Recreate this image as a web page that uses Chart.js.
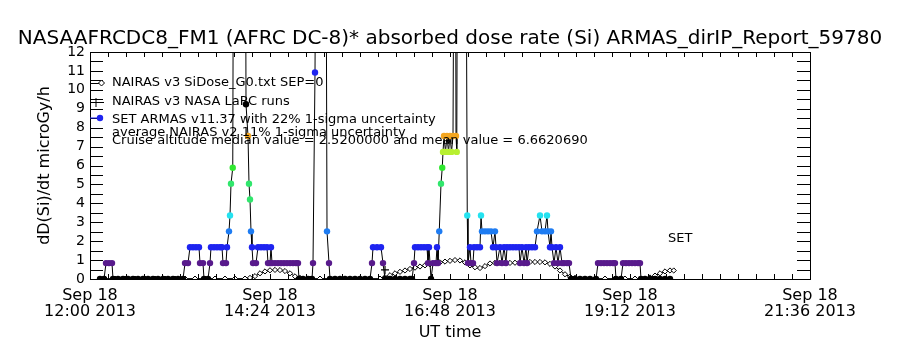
<!DOCTYPE html>
<html>
<head>
<meta charset="utf-8">
<script src="https://cdn.jsdelivr.net/npm/chart.js@4.4.1/dist/chart.umd.min.js"></script>
<style>
  body { margin: 0; background: #fff; }
  canvas { display: block; }
</style>
</head>
<body>
<canvas id="doseChart" width="900" height="350"></canvas>
<script>
// minutes after 12:00 UT, Sep 18 2013
const armasTime = [
  8, 11.2, 12.8, 15.2, 17.6, 18.4, 22.4, 26.4, 30.4, 34.4, 38.4, 42.4, 46.4, 50.4, 54.4, 58.4, 62.4, 66.4, 70.4, 74.4,
  76.0, 78.4, 80.0, 82.4, 84.8, 87.2, 88.0, 90.4, 91.2, 94.4, 96.0, 96.8, 99.2, 101.6, 104.0, 105.6, 106.4, 108.8, 109.6,
  111.2, 112.0, 112.8, 114.2, 114.8, 124.4, 124.8, 126.4, 127.2, 128.0, 128.8, 129.6, 130.4, 132.8, 134.4, 136.8, 139.2, 141.6, 142.4, 144.0, 144.8, 145.6, 148.0, 150.4, 152.8, 155.2, 157.6, 160.0, 162.4, 164.8, 166.4, 167.2, 170.4, 174.4, 177.6,
  178.4, 180.0, 180.8, 188.8, 189.6, 191.2, 192.0, 196, 200, 204, 208, 212, 216, 220, 224,
  225.6, 226.4, 229.6, 232.8, 234.4, 236.0, 240, 244, 248, 252, 256, 257.6,
  259.2, 260.0, 262.4, 264.8, 267.2, 269.6, 270.4, 271.2, 272.8, 274.4, 276.8, 277.6, 278.4, 279.4, 280.8, 281.8, 282.4, 283.2, 284.4, 285.6, 286.8, 288.0, 289.2, 290.4, 291.2, 292.4, 292.8, 293.4, 294.0, 300.8, 301.8,
  302.4, 304.0, 304.8, 306.4, 307.2, 309.6, 312.0, 312.8, 313.6, 316.0, 318.4, 320.8, 322.4, 324.0, 324.8, 325.6, 328.0, 329.6, 331.2, 332.8, 333.6, 336.0, 338.4, 340.8, 343.2, 344.0, 345.6, 347.2, 348.8, 349.6, 351.2, 353.6, 356.0, 357.6, 360.0, 361.6, 364.0, 365.6, 366.4, 368.0, 368.8, 369.6, 371.2, 372.8, 374.4, 376.0, 377.6, 379.2, 381.6, 383.2, 384.8,
  388, 392, 396, 400, 404.8, 406.4, 408.8, 411.2, 413.6, 416.0, 418.4, 420.0, 420.8, 424.8, 426.4, 428.8, 431.2, 433.6, 436.0, 438.4, 440.0, 440.8, 444, 448, 452, 456, 460, 464
];
const armasDose = [
  0, 0, 0.84, 0.84, 0.84, 0, 0, 0, 0, 0, 0, 0, 0, 0, 0, 0, 0, 0, 0, 0,
  0.84, 0.84, 1.68, 1.68, 1.68, 1.68, 0.84, 0.84, 0, 0, 0.84, 1.68, 1.68, 1.68, 1.68, 1.68, 0.84, 0.84, 1.68,
  2.52, 3.36, 5.04, 5.88, 20, 20, 9.24, 7.56, 5.04, 4.2, 2.52, 1.68, 0.84, 0.84, 1.68, 1.68, 1.68, 1.68, 0.84, 0.84, 1.68, 0.84, 0.84, 0.84, 0.84, 0.84, 0.84, 0.84, 0.84, 0.84, 0.84, 0, 0, 0, 0,
  0.84, 10.92, 20, 20, 2.52, 0.84, 0, 0, 0, 0, 0, 0, 0, 0, 0,
  0.84, 1.68, 1.68, 1.68, 0.84, 0, 0, 0, 0, 0, 0, 0,
  0.84, 1.68, 1.68, 1.68, 1.68, 1.68, 0.84, 1.68, 0, 0.84, 0.84, 1.68, 0.84, 2.52, 5.04, 5.88, 6.72, 7.56, 6.72, 7.56, 6.72, 7.56, 6.72, 7.56, 20, 20, 7.56, 6.72, 20, 20, 3.36,
  0.84, 1.68, 0.84, 0.84, 1.68, 1.68, 1.68, 3.36, 2.52, 2.52, 2.52, 2.52, 1.68, 2.52, 1.68, 0.84, 1.68, 0.84, 1.68, 0.84, 1.68, 1.68, 1.68, 1.68, 1.68, 0.84, 1.68, 0.84, 1.68, 0.84, 1.68, 1.68, 1.68, 2.52, 3.36, 2.52, 2.52, 3.36, 2.52, 1.68, 2.52, 1.68, 0.84, 1.68, 0.84, 1.68, 0.84, 0.84, 0.84, 0.84, 0,
  0, 0, 0, 0, 0, 0.84, 0.84, 0.84, 0.84, 0.84, 0.84, 0.84, 0, 0, 0.84, 0.84, 0.84, 0.84, 0.84, 0.84, 0.84, 0, 0, 0, 0, 0, 0, 0
];

// NAIRAS v3 SiDose_G0 model
const nairasTime = [
  12, 20, 28, 36, 44, 52, 60, 68, 76, 84, 92, 100, 108, 116, 124,
  128, 132, 136, 140, 144, 148, 152, 156, 160, 164, 168,
  176, 184, 192, 200, 208, 216, 224, 232,
  236, 240, 244, 248, 252, 256, 260, 264, 268, 272, 276, 280, 284, 288, 292, 296, 300, 304, 308, 312,
  316, 320, 324, 328, 332, 336, 340, 344, 348, 352, 356, 360, 364, 368, 372, 376, 380, 384, 388,
  396, 404, 412, 420, 428, 436, 444,
  448, 452, 456, 460, 464, 467
];
const nairasDose = [
  0.02, 0.02, 0.02, 0.02, 0.02, 0.02, 0.02, 0.02, 0.02, 0.02, 0.02, 0.02, 0.02, 0.02, 0.02,
  0.06, 0.15, 0.3, 0.4, 0.46, 0.48, 0.47, 0.42, 0.3, 0.14, 0.06,
  0.02, 0.02, 0.02, 0.02, 0.02, 0.02, 0.02, 0.02,
  0.1, 0.2, 0.3, 0.38, 0.45, 0.53, 0.6, 0.66, 0.72, 0.78, 0.83, 0.88, 0.92, 0.96, 1.0, 0.98, 0.88, 0.72, 0.62, 0.58,
  0.68, 0.82, 0.85, 0.85, 0.85, 0.85, 0.86, 0.88, 0.9, 0.9, 0.9, 0.9, 0.88, 0.8, 0.66, 0.45, 0.25, 0.12, 0.06,
  0.02, 0.02, 0.02, 0.02, 0.02, 0.02, 0.02,
  0.08, 0.18, 0.3, 0.4, 0.45, 0.45
];

// NAIRAS v3 NASA LaRC runs
const larcTime = [236];
const larcDose = [0.48];

const xTickLabels = [
  ['Sep 18', '12:00 2013'],
  ['Sep 18', '14:24 2013'],
  ['Sep 18', '16:48 2013'],
  ['Sep 18', '19:12 2013'],
  ['Sep 18', '21:36 2013']
];

const legendLines = [
  'NAIRAS v3 SiDose_G0.txt SEP=0',
  'NAIRAS v3 NASA LaRC runs',
  'SET ARMAS v11.37 with 22% 1-sigma uncertainty',
  'average NAIRAS v2 11% 1-sigma uncertainty',
  'Cruise altitude median value = 2.5200000 and mean value = 6.6620690'
];

const FONT = 'DejaVu Sans';

function doseColor(v) {
  if (v < 0.4) return '#000000';
  if (v < 1.2) return '#581a8c';
  if (v < 2.1) return '#1e24f0';
  if (v < 2.9) return '#1e7cf2';
  if (v < 3.8) return '#24e2f0';
  if (v < 5.4) return '#30e66c';
  if (v < 6.2) return '#30e830';
  if (v < 7.1) return '#b8f030';
  if (v < 8.2) return '#f4a620';
  if (v < 10) return '#000000';
  return '#1e24f0';
}

function toPoints(xs, ys) {
  return xs.map((t, i) => ({ x: t, y: ys[i] }));
}

const frame = {
  id: 'frame',
  afterDatasetsDraw(chart) {
    const { ctx, chartArea: a, scales: { x, y } } = chart;
    ctx.save();
    ctx.strokeStyle = '#000';
    ctx.lineWidth = 1;
    ctx.strokeRect(a.left + 0.5, a.top + 0.5, a.right - a.left, a.bottom - a.top);
    ctx.beginPath();
    x.ticks.forEach(t => {
      const px = Math.round(x.getPixelForValue(t.value)) + 0.5;
      ctx.moveTo(px, a.bottom); ctx.lineTo(px, a.bottom - 5);
      ctx.moveTo(px, a.top); ctx.lineTo(px, a.top + 5);
    });
    y.ticks.forEach(t => {
      const py = Math.round(y.getPixelForValue(t.value)) + 0.5;
      ctx.moveTo(a.left, py); ctx.lineTo(a.left + 13, py);
      ctx.moveTo(a.right, py); ctx.lineTo(a.right - 13, py);
    });
    ctx.stroke();

    // legend symbols
    const sx = a.left + 10;
    ctx.beginPath();
    ctx.moveTo(a.left, a.top + 31.5); ctx.lineTo(sx, a.top + 31.5);
    ctx.moveTo(a.left, a.top + 50.5); ctx.lineTo(sx + 4, a.top + 50.5);
    ctx.moveTo(sx - 4, a.top + 46); ctx.lineTo(sx - 4, a.top + 55);
    ctx.stroke();
    ctx.beginPath();
    ctx.moveTo(sx + 1.5, a.top + 28);
    ctx.lineTo(sx + 4.5, a.top + 31);
    ctx.lineTo(sx + 1.5, a.top + 34);
    ctx.lineTo(sx - 1.5, a.top + 31);
    ctx.closePath();
    ctx.fillStyle = '#fff';
    ctx.fill();
    ctx.stroke();
    ctx.fillStyle = doseColor(1.68);
    ctx.beginPath();
    ctx.arc(sx, a.top + 66, 3.2, 0, Math.PI * 2);
    ctx.fill();
    ctx.strokeStyle = doseColor(1.68);
    ctx.beginPath();
    ctx.moveTo(a.left, a.top + 66); ctx.lineTo(sx, a.top + 66);
    ctx.stroke();

    // legend text
    ctx.fillStyle = '#000';
    ctx.font = '13px "' + FONT + '"';
    ctx.textAlign = 'left';
    ctx.textBaseline = 'alphabetic';
    const baselines = [34, 53, 71, 84, 92];
    legendLines.forEach((s, i) => ctx.fillText(s, a.left + 22, a.top + baselines[i]));
    ctx.fillText('SET', 668, 242);
    ctx.restore();
  }
};

new Chart(document.getElementById('doseChart'), {
  type: 'line',
  data: {
    datasets: [
      {
        label: 'SET ARMAS v11.37',
        data: toPoints(armasTime, armasDose),
        borderColor: '#000',
        borderWidth: 1,
        pointRadius: 3.2,
        pointBorderWidth: 0,
        pointBackgroundColor: c => doseColor(c.raw ? c.raw.y : 0),
        pointBorderColor: c => doseColor(c.raw ? c.raw.y : 0),
        clip: 0
      },
      {
        label: 'NAIRAS v3 NASA LaRC runs',
        data: toPoints(larcTime, larcDose),
        showLine: false,
        pointStyle: 'cross',
        pointRadius: 4,
        pointBorderColor: '#000',
        pointBorderWidth: 1.2,
        clip: 0
      },
      {
        label: 'NAIRAS v3 SiDose_G0.txt SEP=0',
        data: toPoints(nairasTime, nairasDose),
        borderColor: '#000',
        borderWidth: 1,
        pointStyle: 'rectRot',
        pointRadius: 2.6,
        pointBackgroundColor: '#fff',
        pointBorderColor: '#000',
        pointBorderWidth: 1,
        clip: 0
      }
    ]
  },
  options: {
    responsive: false,
    animation: false,
    events: [],
    layout: { padding: 0 },
    plugins: {
      legend: { display: false },
      tooltip: { enabled: false },
      title: {
        display: true,
        text: 'NASAAFRCDC8_FM1 (AFRC DC-8)* absorbed dose rate (Si) ARMAS_dirIP_Report_59780',
        color: '#000',
        font: { family: FONT, size: 20, weight: 'normal', lineHeight: 1.2 },
        padding: { top: 26.7, bottom: 1.3 }
      }
    },
    scales: {
      x: {
        type: 'linear',
        min: 0,
        max: 576,
        grid: { display: false, drawTicks: false },
        border: { display: false },
        ticks: {
          stepSize: 14.4,
          autoSkip: false,
          maxRotation: 0,
          padding: 9,
          color: '#000',
          font: { family: FONT, size: 16, lineHeight: 1 },
          callback: v => {
            const k = v / 144;
            return Math.abs(k - Math.round(k)) < 1e-6 ? xTickLabels[Math.round(k)] : '';
          }
        },
        title: {
          display: true,
          text: 'UT time',
          color: '#000',
          font: { family: FONT, size: 16 },
          padding: { top: 0, bottom: 8 }
        },
        afterFit: s => { s.height = 71; }
      },
      y: {
        min: 0,
        max: 12,
        grid: { display: false, drawTicks: false },
        border: { display: false },
        ticks: {
          stepSize: 0.5,
          autoSkip: false,
          padding: 5,
          color: '#000',
          font: { family: FONT, size: 14 },
          callback: v => Number.isInteger(v) ? String(v) : ''
        },
        title: {
          display: true,
          text: 'dD(Si)/dt microGy/h',
          color: '#000',
          font: { family: FONT, size: 16 },
          padding: { top: 35, bottom: 0 }
        },
        afterFit: s => { s.width = 90; }
      },
      yRight: {
        position: 'right',
        min: 0,
        max: 12,
        grid: { display: false, drawTicks: false },
        border: { display: false },
        ticks: { display: false },
        afterFit: s => { s.width = 90; }
      }
    }
  },
  plugins: [frame]
});
</script>
</body>
</html>
